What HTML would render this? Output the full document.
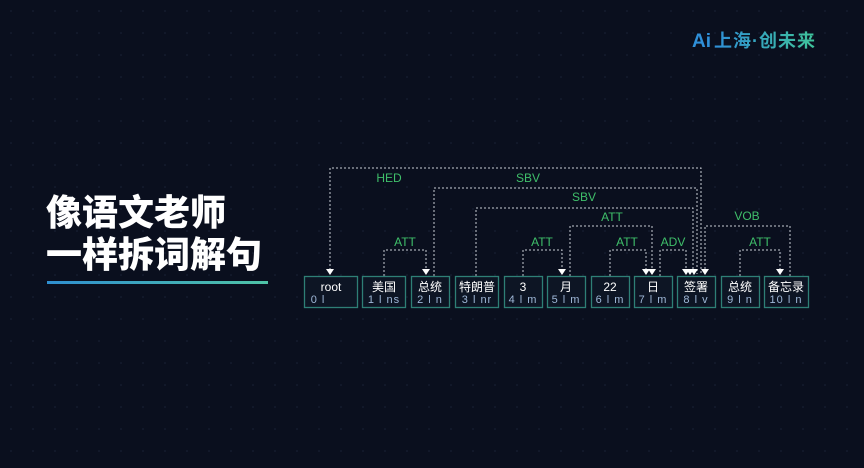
<!DOCTYPE html>
<html><head><meta charset="utf-8"><style>
html,body{margin:0;padding:0;background:#0a0f1e;}
svg{display:block}
</style></head><body>
<svg width="864" height="468" viewBox="0 0 864 468" xmlns="http://www.w3.org/2000/svg">
<defs>
<pattern id="dots" width="22" height="22" patternUnits="userSpaceOnUse"><circle cx="11" cy="11" r="0.8" fill="#1a2236"/></pattern>
<linearGradient id="ul" x1="0" x2="1"><stop offset="0" stop-color="#2f8fd0"/><stop offset="1" stop-color="#4fc3a6"/></linearGradient>
<linearGradient id="lg" x1="0" x2="1"><stop offset="0" stop-color="#2f8fd8"/><stop offset="1" stop-color="#3fc49a"/></linearGradient>
</defs>
<rect width="864" height="468" fill="#0a0f1e"/>
<rect width="864" height="468" fill="url(#dots)"/>
<text x="692" y="47" font-family="Liberation Sans, sans-serif" font-weight="bold" font-size="19" fill="#2f8fd8">Ai</text>
<text x="714" y="47" font-family="Liberation Sans, 'Noto Sans CJK SC', sans-serif" font-weight="bold" font-size="18" fill="url(#lg)" letter-spacing="1">上海·创未来</text>
<g font-family="Liberation Sans, 'Noto Sans CJK SC', sans-serif" font-weight="900" font-size="36" fill="#fff">
<text x="46" y="225">像语文老师</text>
<text x="46" y="267">一样拆词解句</text>
</g>
<rect x="47" y="281" width="221" height="3" fill="url(#ul)"/>
<g fill="none" stroke="#c8ccd4" stroke-width="1" stroke-dasharray="2,2">
<path d="M330 274V168H701V274"/>
<path d="M434 276V188H697V274"/>
<path d="M476 276V208H693V274"/>
<path d="M570 276V226H652V274"/>
<path d="M384 276V250H426V274"/>
<path d="M523 276V250H562V274"/>
<path d="M610 276V250H646V274"/>
<path d="M660 276V250H686V274"/>
<path d="M790 276V226H705V274"/>
<path d="M740 276V250H780V274"/>
</g>
<g fill="#fff">
<path d="M326 269h8l-4 6z"/><path d="M422 269h8l-4 6z"/><path d="M558 269h8l-4 6z"/>
<path d="M642 269h8l-4 6z"/><path d="M648 269h8l-4 6z"/>
<path d="M682 269h8l-4 6z"/><path d="M686 269h8l-4 6z"/><path d="M690 269h8l-4 6z"/><path d="M701 269h8l-4 6z"/>
<path d="M776 269h8l-4 6z"/>
</g>
<g font-family="Liberation Sans, sans-serif" font-size="12" fill="#3fbf6a" text-anchor="middle">
<text x="389" y="182">HED</text><text x="528" y="182">SBV</text><text x="584" y="201">SBV</text>
<text x="612" y="221">ATT</text><text x="405" y="246">ATT</text><text x="542" y="246">ATT</text>
<text x="627" y="246">ATT</text><text x="673" y="246">ADV</text><text x="747" y="220">VOB</text><text x="760" y="246">ATT</text>
</g>
<g fill="#0d1524" stroke="#2e7f76" stroke-width="1.3">
<rect x="304.5" y="276.5" width="53" height="31"/><rect x="362.5" y="276.5" width="43" height="31"/>
<rect x="411.5" y="276.5" width="38" height="31"/><rect x="455.5" y="276.5" width="43" height="31"/>
<rect x="504.5" y="276.5" width="38" height="31"/><rect x="547.5" y="276.5" width="38" height="31"/>
<rect x="591.5" y="276.5" width="38" height="31"/><rect x="634.5" y="276.5" width="38" height="31"/>
<rect x="677.5" y="276.5" width="38" height="31"/><rect x="721.5" y="276.5" width="38" height="31"/>
<rect x="764.5" y="276.5" width="44" height="31"/>
</g>
<g font-family="Liberation Sans, 'Noto Sans CJK SC', sans-serif" font-size="12" fill="#fff" text-anchor="middle">
<text x="331" y="291">root</text><text x="384" y="291">美国</text><text x="430" y="291">总统</text>
<text x="477" y="291">特朗普</text><text x="523" y="291">3</text><text x="566" y="291">月</text>
<text x="610" y="291">22</text><text x="653" y="291">日</text><text x="696" y="291">签署</text>
<text x="740" y="291">总统</text><text x="786" y="291">备忘录</text>
</g>
<g font-family="Liberation Sans, sans-serif" font-size="11" fill="#9fb8d8" text-anchor="middle" letter-spacing="1">
<text x="318" y="303">0 l</text><text x="384" y="303">1 l ns</text><text x="430" y="303">2 l n</text>
<text x="477" y="303">3 l nr</text><text x="523" y="303">4 l m</text><text x="566" y="303">5 l m</text>
<text x="610" y="303">6 l m</text><text x="653" y="303">7 l m</text><text x="696" y="303">8 l v</text>
<text x="740" y="303">9 l n</text><text x="786" y="303">10 l n</text>
</g>
</svg>
</body></html>
